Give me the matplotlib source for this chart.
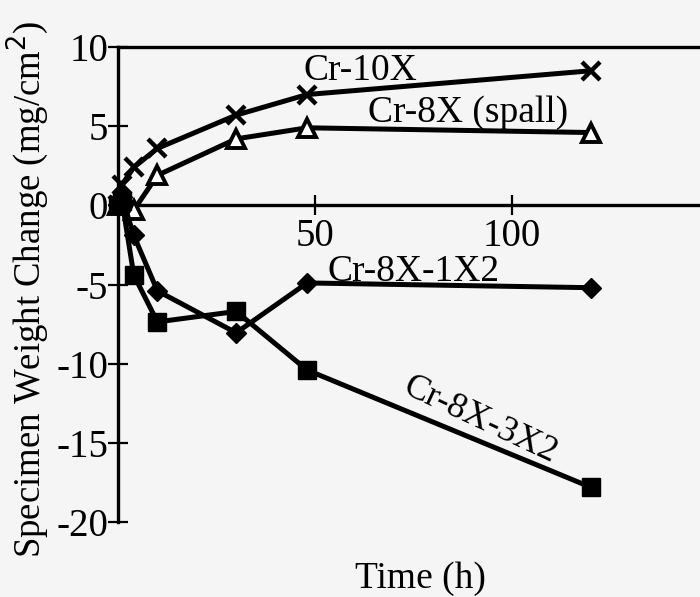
import matplotlib
matplotlib.use("Agg")
import matplotlib.pyplot as plt

# Exposure time (h) and specimen weight change (mg/cm^2) for each alloy
time_h = [0, 1, 4, 10, 30, 48, 120]
cr_10x = [0, 1.3, 2.4, 3.6, 5.7, 7.0, 8.5]
cr_8x_spall = [0, 0.8, -0.3, 1.9, 4.2, 4.9, 4.6]
cr_8x_1x2 = [0, 0.5, -1.9, -5.4, -8.05, -4.9, -5.2]
cr_8x_3x2 = [0, 0.3, -4.4, -7.36, -6.7, -10.4, -17.8]

x_ticks = [50, 100]
y_ticks = [-20, -15, -10, -5, 0, 5, 10]

plt.rcParams["font.family"] = ["Liberation Serif", "DejaVu Serif"]
bg = "#f5f5f5"

fig = plt.figure(figsize=(7.0, 5.97), dpi=100, facecolor=bg)
ax = fig.add_axes([0.1686, 0.1256, 0.844, 0.7956])
ax.set_facecolor(bg)

line_kw = dict(color="black", lw=3.6, clip_on=False, zorder=3)
ax.plot(time_h, cr_10x, marker="x", ms=13, mew=3.2, **line_kw)
ax.plot(time_h, cr_8x_spall, marker="^", ms=13, mew=2.8, mfc="white",
        mec="black", **line_kw)
ax.plot(time_h, cr_8x_1x2, marker="D", ms=10, mew=1, mfc="black", **line_kw)
ax.plot(time_h, cr_8x_3x2, marker="s", ms=13, mew=1, mfc="black", **line_kw)

ax.set_xlim(0, 150)
ax.set_ylim(-20, 10)

# Axes frame: top and left lines, horizontal axis drawn through zero
ax.spines["right"].set_visible(False)
ax.spines["bottom"].set_position(("data", 0))
for s in ("left", "top", "bottom"):
    ax.spines[s].set_linewidth(2.4)
    ax.spines[s].set_color("black")

ax.set_xticks(x_ticks)
ax.set_xticklabels([str(v) for v in x_ticks])
ax.set_yticks(y_ticks)
ax.set_yticklabels([str(v) for v in y_ticks])
ax.tick_params(axis="both", direction="inout", length=14, width=1.6,
               labelsize=28, colors="black")
ax.tick_params(axis="x", pad=2)
ax.tick_params(axis="y", pad=0)
ax.xaxis.set_ticks_position("bottom")

ax.set_xlabel("Time (h)", fontsize=27, labelpad=0)
ax.xaxis.set_label_coords(0.512, -0.083)
ax.set_ylabel("Specimen Weight Change (mg/cm$^2$)", fontsize=26.5)
ax.yaxis.set_label_coords(-0.113, 0.49)

lab_kw = dict(fontsize=27, color="black", va="baseline", ha="left", zorder=4)
ax.text(47, 7.9, "Cr-10X", **lab_kw)
ax.text(63.5, 5.3, "Cr-8X (spall)", **lab_kw)
ax.text(53.3, -4.77, "Cr-8X-1X2", **lab_kw)
ax.text(91.9, -13.55, "Cr-8X-3X2", fontsize=26, color="black",
        ha="center", va="center", rotation=-25, rotation_mode="anchor")

fig.savefig("out.png", dpi=100, facecolor=bg)
